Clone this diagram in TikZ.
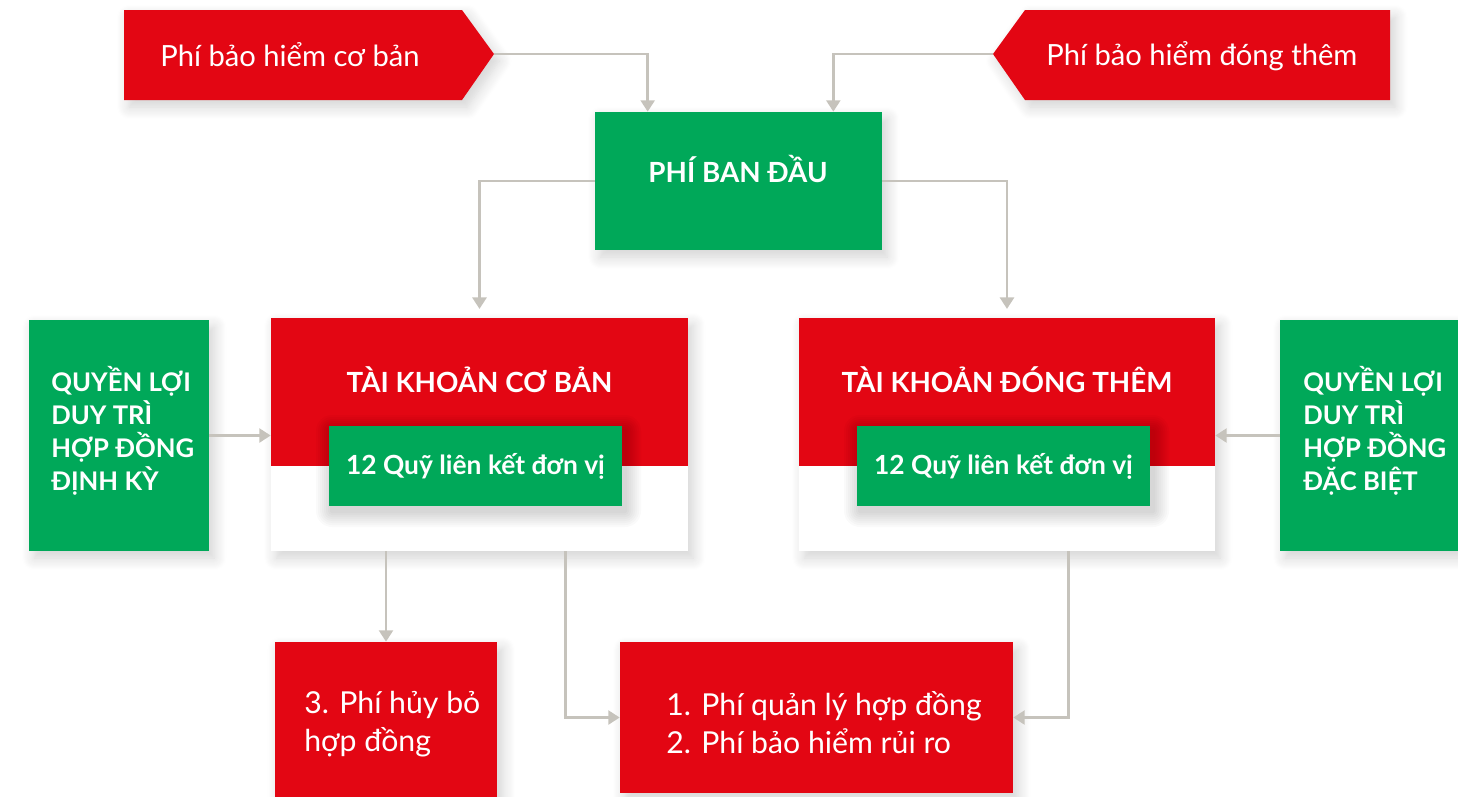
\documentclass[tikz,border=0pt]{standalone}
\usepackage{fontspec}
\setmainfont{Lato}
\usetikzlibrary{arrows.meta,calc,shadows.blur}

\definecolor{feered}{HTML}{E30613}
\definecolor{feegreen}{HTML}{00A859}
\definecolor{feeline}{HTML}{C6C3BC}

\tikzset{
  softshadow/.style={blur shadow={shadow xshift=3pt, shadow yshift=-4pt, shadow blur radius=7pt, shadow blur steps=12, shadow opacity=18}},
  greenbox/.style={fill=feegreen, text=white, inner sep=0pt, softshadow, font=\bfseries\fontsize{15}{19}\selectfont},
  fundbox/.style={fill=feegreen, text=white, inner sep=0pt, font=\bfseries\fontsize{15}{19}\selectfont},
  redbox/.style={fill=feered, inner sep=0pt, softshadow},
  whitetext/.style={text=white, inner sep=0pt, font=\fontsize{16.6}{21.7}\selectfont},
  feetext/.style={text=white, inner sep=0pt, font=\fontsize{17.2}{21.7}\selectfont},
  boldtext/.style={text=white, inner sep=0pt, font=\bfseries\fontsize{15.8}{18.7}\selectfont},
  sidetext/.style={text=white, inner sep=0pt, font=\bfseries\fontsize{14.6}{18.8}\selectfont},
  flow/.style={feeline, line width=1.4pt, -{Triangle[width=8pt,length=6.5pt]}},
}

\begin{document}
\begin{tikzpicture}[x=0.02cm, y=-0.02cm]
  \useasboundingbox (0,0) rectangle (1458,796);

  % premium arrows at the top
  \fill[feered, softshadow] (124,10) -- (462,10) -- (494,54) -- (462,100) -- (124,100) -- cycle;
  \coordinate (basetip) at (494,54);
  \node[whitetext, anchor=base west] (basetext) at (160,66) {Phí bảo hiểm cơ bản};

  \fill[feered, softshadow] (1390,10) -- (1025,10) -- (993,54) -- (1025,100) -- (1390,100) -- cycle;
  \coordinate (addtip) at (993,54);
  \node[whitetext, anchor=base west] (addtext) at (1046,65) {Phí bảo hiểm đóng thêm};

  \node[greenbox, minimum width=5.74cm, minimum height=2.76cm] (phiban) at (738.5,181) {};
  \node[boldtext, anchor=base] (phibantext) at (738,182) {PHÍ BAN ĐẦU};

  % the two accounts
  \node[fill=white, softshadow, minimum width=8.34cm, minimum height=4.66cm] (tkcb) at (479.5,434.5) {};
  \fill[feered] (tkcb.north west) rectangle ($(tkcb.north east)+(0,148)$);
  \node[boldtext, anchor=base] (tkcbtitle) at (479.5,392) {TÀI KHOẢN CƠ BẢN};

  \node[fill=white, softshadow, minimum width=8.32cm, minimum height=4.66cm] (tkdt) at (1007,434.5) {};
  \fill[feered] (tkdt.north west) rectangle ($(tkdt.north east)+(0,148)$);
  \node[boldtext, anchor=base] (tkdttitle) at (1007,392) {TÀI KHOẢN ĐÓNG THÊM};

  % soft shade under the fund boxes
  \foreach \cx in {475.5,1003.5}
    \foreach \r in {2,4,...,16}
      \fill[black, opacity=0.018, rounded corners=\r*0.02cm]
        (\cx-146.5+3-\r,426+5-\r) rectangle (\cx+146.5+3+\r,506+5+\r);

  \node[fundbox, minimum width=5.86cm, minimum height=1.6cm] (quycb) at (475.5,466) {12 Quỹ liên kết đơn vị};
  \node[fundbox, minimum width=5.86cm, minimum height=1.6cm] (quydt) at (1003.5,466) {12 Quỹ liên kết đơn vị};

  % benefits on both sides
  \node[greenbox, minimum width=3.6cm, minimum height=4.62cm] (quyenL) at (119,435.5) {};
  \node[sidetext, align=left, anchor=north west] (quyenLtext) at (51,366) {QUYỀN LỢI\\DUY TRÌ\\HỢP ĐỒNG\\ĐỊNH KỲ};
  \node[greenbox, minimum width=3.6cm, minimum height=4.62cm] (quyenR) at (1370,435.5) {};
  \node[sidetext, align=left, anchor=north west] (quyenRtext) at (1303,366) {QUYỀN LỢI\\DUY TRÌ\\HỢP ĐỒNG\\ĐẶC BIỆT};

  % fees
  \node[redbox, minimum width=4.46cm, minimum height=3.32cm] (huy) at (386,725) {};
  \node[feetext, align=left, anchor=north west] (huytext) at (304,691) {3. Phí hủy bỏ\\hợp đồng};
  \node[redbox, minimum width=7.86cm, minimum height=3.02cm] (qlhd) at (816.5,717.5) {};
  \node[feetext, align=left, anchor=north west] (qlhdtext) at (666,691) {1. Phí quản lý hợp đồng\\2. Phí bảo hiểm rủi ro};

  % connectors
  \draw[flow] (basetip) -| ($(phiban.north west)+(53,0)$);
  \draw[flow] (addtip) -| ($(phiban.north east)+(-49,0)$);
  \draw[flow, shorten >=5pt] (phiban.west) -| (tkcb.north);
  \draw[flow, shorten >=5pt] (phiban.east) -| (tkdt.north);
  \draw[flow] (quyenL.east) -- (quyenL.east -| tkcb.west);
  \draw[flow] (quyenR.west) -- (quyenR.west -| tkdt.east);
  \draw[flow] (tkcb.south -| huy.north) -- (huy.north);
  \draw[flow] ($(tkcb.south west)+(295,0)$) |- (qlhd.west);
  \draw[flow] ($(tkdt.south west)+(270,0)$) |- (qlhd.east);
\end{tikzpicture}
\end{document}
